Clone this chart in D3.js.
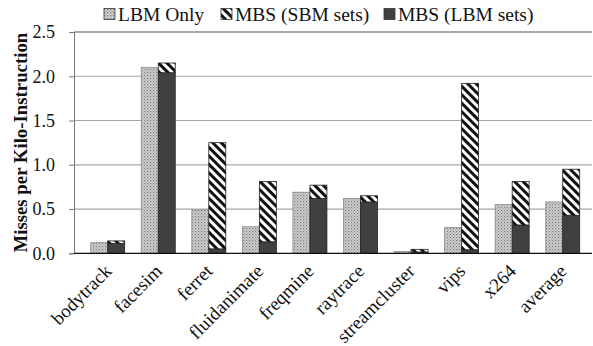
<!DOCTYPE html>
<html>
<head>
<meta charset="utf-8">
<script src="https://cdn.jsdelivr.net/npm/d3@7"></script>
<style>
  html, body { margin: 0; padding: 0; background: #fff; }
  svg { display: block; }
  svg text { font-family: "Liberation Serif", "Times New Roman", serif; }
</style>
</head>
<body>
<svg id="chart" width="593" height="346"></svg>
<script>
const categories = ["bodytrack", "facesim", "ferret", "fluidanimate", "freqmine",
                    "raytrace", "streamcluster", "vips", "x264", "average"];
const lbmOnly    = [0.12, 2.10, 0.49, 0.30, 0.69, 0.62, 0.02, 0.29, 0.55, 0.58];
const mbsLbmSets = [0.11, 2.04, 0.05, 0.13, 0.62, 0.58, 0.015, 0.04, 0.32, 0.43];
const mbsSbmSets = [0.03, 0.11, 1.20, 0.68, 0.15, 0.07, 0.03, 1.88, 0.49, 0.52];
const yTicks = [0, 0.5, 1.0, 1.5, 2.0, 2.5];
const legendLabels = ["LBM Only", "MBS (SBM sets)", "MBS (LBM sets)"];

const FONT = "Liberation Serif";
const svg = d3.select("#chart");
const plot = { left: 74, right: 592, top: 32, bottom: 253.3 };

// fill patterns
const defs = svg.append("defs");
const dots = defs.append("pattern").attr("id", "pDots")
  .attr("patternUnits", "userSpaceOnUse").attr("width", 3).attr("height", 3);
dots.append("rect").attr("width", 3).attr("height", 3).attr("fill", "#d2d2d2");
dots.append("rect").attr("x", 0).attr("y", 0).attr("width", 1.2).attr("height", 1.2).attr("fill", "#777");
dots.append("rect").attr("x", 1.5).attr("y", 1.5).attr("width", 1.2).attr("height", 1.2).attr("fill", "#999");

const hatch = defs.append("pattern").attr("id", "pHatch")
  .attr("patternUnits", "userSpaceOnUse").attr("width", 6).attr("height", 6)
  .attr("patternTransform", "rotate(-45)");
hatch.append("rect").attr("width", 6).attr("height", 6).attr("fill", "#fff");
hatch.append("rect").attr("x", 0).attr("y", 0).attr("width", 3).attr("height", 6).attr("fill", "#111");

const fills = { lbmOnly: "url(#pDots)", sbm: "url(#pHatch)", lbm: "#404040" };

const y = d3.scaleLinear().domain([0, 2.5]).range([plot.bottom, plot.top]);
const x = d3.scaleBand().domain(categories).range([82.4, 588]).padding(0);
const barW = 17;

// gridlines
svg.append("g").selectAll("line").data(yTicks.filter(t => t > 0)).join("line")
  .attr("x1", plot.left).attr("x2", plot.right)
  .attr("y1", d => y(d)).attr("y2", d => y(d))
  .attr("stroke", d => d === 2.5 ? "#555" : "#a6a6a6").attr("stroke-width", 1.2);

// y axis
const yAxis = svg.append("g").attr("transform", `translate(${plot.left},0)`)
  .call(d3.axisLeft(y).tickValues(yTicks).tickFormat(d3.format(".1f")).tickSize(5).tickPadding(14));
yAxis.attr("font-family", FONT);
yAxis.select(".domain").attr("stroke", "#777");
yAxis.selectAll(".tick line").attr("stroke", "#777");
yAxis.selectAll("text").attr("font-size", 18).attr("fill", "#111").attr("font-family", FONT);

// LBM Only bars
svg.append("g").selectAll("rect").data(categories).join("rect")
  .attr("x", (d) => x(d) + x.bandwidth() / 2 - barW)
  .attr("y", (d, i) => y(lbmOnly[i]))
  .attr("width", barW)
  .attr("height", (d, i) => y(0) - y(lbmOnly[i]))
  .attr("fill", fills.lbmOnly).attr("stroke", "#8c8c8c").attr("stroke-width", 0.8);

// MBS stacked bars
const rows = categories.map((c, i) => ({ cat: c, lbm: mbsLbmSets[i], sbm: mbsSbmSets[i] }));
const stacked = d3.stack().keys(["lbm", "sbm"])(rows);
svg.append("g").selectAll("g").data(stacked).join("g")
  .attr("fill", s => fills[s.key])
  .selectAll("rect").data(s => s).join("rect")
  .attr("x", d => x(d.data.cat) + x.bandwidth() / 2)
  .attr("y", d => y(d[1]))
  .attr("width", barW)
  .attr("height", d => y(d[0]) - y(d[1]))
  .attr("stroke", "#222").attr("stroke-width", 0.8);

// baseline
svg.append("line").attr("x1", plot.left).attr("x2", plot.right)
  .attr("y1", y(0)).attr("y2", y(0)).attr("stroke", "#111").attr("stroke-width", 1.3);

// category labels, rotated so their ends sit under each group
svg.append("g").selectAll("text").data(categories).join("text")
  .attr("transform", d => `translate(${x(d) + x.bandwidth() / 2 + 5},${y(0) + 19}) rotate(-45)`)
  .attr("text-anchor", "end")
  .attr("font-family", FONT).attr("font-size", 19).attr("fill", "#111").text(d => d);

// y axis title
svg.append("text")
  .attr("transform", `translate(27.4,${(plot.top + plot.bottom) / 2}) rotate(-90)`)
  .attr("text-anchor", "middle")
  .attr("font-family", FONT).attr("font-size", 18.8).attr("font-weight", "bold").attr("fill", "#111")
  .text("Misses per Kilo-Instruction");

// legend
const legendFills = [fills.lbmOnly, fills.sbm, fills.lbm];
const legendX = [104, 221, 384];
const legend = svg.append("g").selectAll("g").data(legendLabels).join("g")
  .attr("transform", (d, i) => `translate(${legendX[i]},0)`);
legend.append("rect").attr("x", 0).attr("y", 8.5).attr("width", 11).attr("height", 11)
  .attr("fill", (d, i) => legendFills[i]).attr("stroke", "#333").attr("stroke-width", 0.8);
legend.append("text").attr("x", 14).attr("y", 21)
  .attr("font-family", FONT).attr("font-size", 19.5).attr("fill", "#111").text(d => d);
</script>
</body>
</html>
